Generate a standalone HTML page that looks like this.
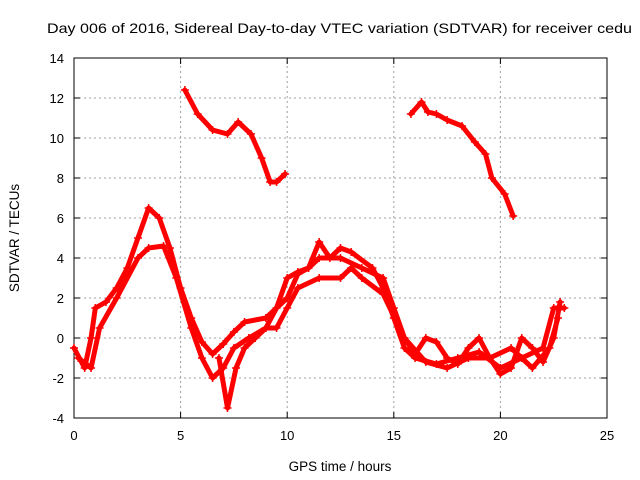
<!DOCTYPE html>
<html><head><meta charset="utf-8"><style>
body{margin:0;background:#fff;}
svg{display:block;font-family:"Liberation Sans",sans-serif;}
</style></head><body>
<svg width="640" height="480">
<text x="47" y="33" font-size="14" textLength="585" lengthAdjust="spacingAndGlyphs">Day 006 of 2016, Sidereal Day-to-day VTEC variation (SDTVAR) for receiver cedu</text>
<g id="grid"></g>
<g id="axes"></g>
<g id="series"></g>
<text x="340" y="471" font-size="13.5" text-anchor="middle">GPS time / hours</text>
<text transform="translate(19,238) rotate(-90)" font-size="13.5" text-anchor="middle">SDTVAR / TECUs</text>
</svg>
<script>
const xTicks=[0,5,10,15,20,25];
const yTicks=[-4,-2,0,2,4,6,8,10,12,14];
const trackA=[[5.2,12.4],[5.8,11.2],[6.5,10.4],[7.2,10.2],[7.7,10.8],[8.3,10.2],[8.8,9],[9.2,7.8],[9.5,7.8],[9.9,8.2]];
const trackB=[[15.8,11.2],[16.3,11.8],[16.6,11.3],[17,11.2],[17.5,10.9],[18.2,10.6],[18.8,9.8],[19.3,9.2],[19.6,8],[20.2,7.2],[20.6,6.1]];
const trackC=[[0,-0.5],[0.5,-1.5],[0.8,0],[1,1.5],[1.5,1.8],[2,2.5],[2.5,3.5],[3,5],[3.5,6.5],[4,6],[4.5,4.5],[5,2.5],[5.5,1],[6,-0.2],[6.5,-0.8],[7,-0.3],[7.5,0.3],[8,0.8],[9,1],[10,2],[10.5,3.2],[11,3.5],[11.5,4.8],[12,4],[12.5,4.5],[13,4.3],[14,3.5],[14.5,2.5],[15,1],[15.5,-0.5],[16,-1],[17,-1.3],[18,-1],[19,-0.7],[20,-1.5],[21,-1],[22,-0.5],[22.5,1.5],[23,1.5]];
const trackD=[[0.2,-1],[0.8,-1.5],[1.2,0.5],[2,2],[3,4],[3.5,4.5],[4.2,4.6],[4.8,3],[5.5,0.5],[6,-1],[6.5,-2],[7,-1.5],[7.5,-0.5],[8.2,0],[9,0.5],[9.5,0.5],[10,1.5],[10.5,2.5],[11.5,3],[12.5,3],[13,3.5],[13.5,3],[14.5,2.2],[15.5,0],[16.5,-1.2],[17.5,-1.5],[18.5,-1],[19.5,-1],[20.5,-0.5],[21.5,-1.5],[22.3,-0.5],[22.7,1]];
const trackE=[[6.8,-1],[7.2,-3.5],[7.6,-1.5],[8,-0.5],[8.5,0],[9,0.5],[9.5,1.5],[10,3],[10.5,3.3],[11,3.5],[11.5,4],[12.5,4],[13.5,3.5],[14.5,3],[15,1.5],[15.5,0],[16,-0.8],[16.5,0],[17,-0.2],[17.5,-1],[18,-1.3],[18.5,-0.5],[19,0],[19.5,-1],[20,-1.8],[20.5,-1.5],[21,0],[21.5,-0.5],[22,-1.2],[22.5,0],[22.8,1.8]];
const NS='http://www.w3.org/2000/svg';
const X0=74,X1=607,Y0=418,Y1=58;
const sx=v=>X0+(v-0)/(25-0)*(X1-X0);
const sy=v=>Y0-(v+4)/(14+4)*(Y0-Y1);
function mk(t,a,p){const e=document.createElementNS(NS,t);for(const k in a)e.setAttribute(k,a[k]);p.appendChild(e);return e;}
const grid=document.getElementById('grid'),axes=document.getElementById('axes'),ser=document.getElementById('series');
xTicks.forEach(t=>{
 if(t>0&&t<25){const l=mk('line',{x1:sx(t),x2:sx(t),y1:Y0,y2:Y1,stroke:'#a0a0a0','stroke-dasharray':'2,3','stroke-width':1},grid);
 
 }
 const tx=mk('text',{x:sx(t),y:Y0+22,'font-size':13,'text-anchor':'middle'},axes);tx.textContent=t;
 
 
 mk('line',{x1:sx(t),x2:sx(t),y1:Y0,y2:Y0-6,stroke:'#000'},axes);
 mk('line',{x1:sx(t),x2:sx(t),y1:Y1,y2:Y1+6,stroke:'#000'},axes);
});
yTicks.forEach(t=>{
 if(t>-4&&t<14){const l=mk('line',{x1:X0,x2:X1,y1:sy(t),y2:sy(t),stroke:'#a0a0a0','stroke-dasharray':'2,3','stroke-width':1},grid);
 
 }
 const tx=mk('text',{x:X0-10,y:sy(t)+5,'font-size':13,'text-anchor':'end'},axes);tx.textContent=t;
 
 
 mk('line',{x1:X0,x2:X0+6,y1:sy(t),y2:sy(t),stroke:'#000'},axes);
 mk('line',{x1:X1,x2:X1-6,y1:sy(t),y2:sy(t),stroke:'#000'},axes);
});
const fr=mk('rect',{x:X0,y:Y1,width:X1-X0,height:Y0-Y1,fill:'none',stroke:'#000'},axes);


[trackA,trackB,trackC,trackD,trackE].forEach((tr,i)=>{
 const p=mk('polyline',{points:tr.map(d=>sx(d[0])+','+sy(d[1])).join(' '),fill:'none',stroke:'#ff0000','stroke-width':5,'stroke-linejoin':'round','stroke-linecap':'round'},ser);
 
 
 tr.forEach(d=>{
  const g=mk('path',{d:`M${sx(d[0])-4},${sy(d[1])}h8M${sx(d[0])},${sy(d[1])-4}v8`,stroke:'#ff0000','stroke-width':1.5},ser);
  
  
 });
});
</script>
</body></html>
